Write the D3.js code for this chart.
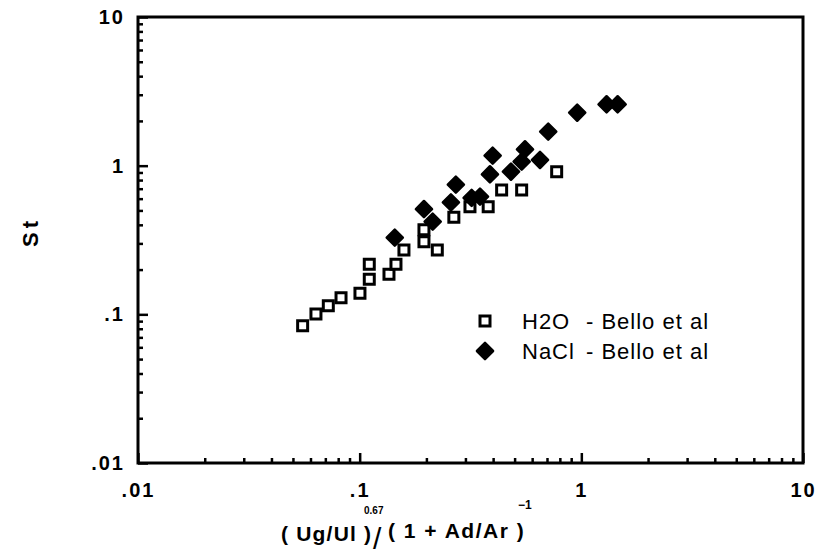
<!DOCTYPE html>
<html>
<head>
<meta charset="utf-8">
<script src="https://cdn.jsdelivr.net/npm/d3@7"></script>
<style>
  body { margin: 0; background: white; }
  svg text { font-family: "Liberation Sans", Arial, sans-serif; }
</style>
</head>
<body>
<svg></svg>
<script>
// H2O - Bello et al (open squares)
var h2oX = [0.0553, 0.0635, 0.0722, 0.0824, 0.1003, 0.1105, 0.1105, 0.1356, 0.1458, 0.1584,
            0.195, 0.195, 0.224, 0.266, 0.3145, 0.380, 0.437, 0.538, 0.774];
var h2oY = [0.0839, 0.1006, 0.1144, 0.1295, 0.1387, 0.172, 0.217, 0.186, 0.217, 0.271,
            0.308, 0.370, 0.271, 0.449, 0.530, 0.530, 0.686, 0.686, 0.911];
// NaCl - Bello et al (filled diamonds)
var naclX = [0.144, 0.195, 0.2135, 0.258, 0.2716, 0.320, 0.349, 0.387, 0.398, 0.4815,
             0.538, 0.557, 0.651, 0.709, 0.958, 1.30, 1.458];
var naclY = [0.328, 0.511, 0.420, 0.566, 0.745, 0.607, 0.619, 0.875, 1.168, 0.911,
             1.064, 1.289, 1.092, 1.693, 2.272, 2.588, 2.588];

var majorTicks = [0.01, 0.1, 1, 10];
var tickLabels = [".01", ".1", "1", "10"];

var svgWidth = 821, svgHeight = 557;
var plotLeft = 138, plotRight = 803, plotTop = 17, plotBottom = 463;

var svg = d3.select("svg")
    .attr("width", svgWidth)
    .attr("height", svgHeight);

svg.append("rect")
    .attr("width", "100%")
    .attr("height", "100%")
    .attr("fill", "white");

var xScale = d3.scaleLog().domain([0.01, 10]).range([plotLeft, plotRight]);
var yScale = d3.scaleLog().domain([0.01, 10]).range([plotBottom, plotTop]);

var minorTicks = [];
[0.01, 0.1, 1].forEach(function(d) {
    for (var k = 2; k <= 9; k++) minorTicks.push(d * k);
});

function fmt(d) { return tickLabels[majorTicks.indexOf(d)]; }

// minor ticks
svg.append("g")
    .attr("transform", "translate(0," + plotBottom + ")")
    .call(d3.axisBottom(xScale).tickValues(minorTicks).tickSize(-5).tickFormat(""));
svg.append("g")
    .attr("transform", "translate(" + plotLeft + ",0)")
    .call(d3.axisLeft(yScale).tickValues(minorTicks).tickSize(-5).tickFormat(""));

// major ticks with labels
svg.append("g")
    .attr("transform", "translate(0," + plotBottom + ")")
    .call(d3.axisBottom(xScale).tickValues(majorTicks).tickSize(-10).tickPadding(20).tickFormat(fmt));
svg.append("g")
    .attr("transform", "translate(" + plotLeft + ",0)")
    .call(d3.axisLeft(yScale).tickValues(majorTicks).tickSize(-10).tickPadding(13).tickFormat(fmt));

svg.selectAll(".domain").remove();
svg.selectAll(".tick line").attr("stroke", "black").attr("stroke-width", 2.5);
svg.selectAll(".tick text")
    .attr("fill", "black")
    .style("font-size", "20px")
    .style("font-weight", "bold")
    .style("letter-spacing", "2px");

// frame
svg.append("rect")
    .attr("x", plotLeft)
    .attr("y", plotTop)
    .attr("width", plotRight - plotLeft)
    .attr("height", plotBottom - plotTop)
    .attr("fill", "none")
    .attr("stroke", "black")
    .attr("stroke-width", 3);

var square = d3.symbol().type(d3.symbolSquare).size(100);
var diamond = d3.symbol().type(d3.symbolSquare).size(130);

svg.append("g").selectAll("path")
    .data(h2oX)
    .join("path")
    .attr("d", square)
    .attr("transform", function(d, i) { return "translate(" + xScale(d) + "," + yScale(h2oY[i]) + ")"; })
    .attr("fill", "white")
    .attr("stroke", "black")
    .attr("stroke-width", 3);

svg.append("g").selectAll("path")
    .data(naclX)
    .join("path")
    .attr("d", diamond)
    .attr("transform", function(d, i) { return "translate(" + xScale(d) + "," + yScale(naclY[i]) + ") rotate(45)"; })
    .attr("fill", "black")
    .attr("stroke", "black")
    .attr("stroke-width", 2.5)
    .attr("stroke-linejoin", "round");

// legend
var legend = svg.append("g");
legend.append("path")
    .attr("d", square)
    .attr("transform", "translate(485,321)")
    .attr("fill", "white")
    .attr("stroke", "black")
    .attr("stroke-width", 3);
legend.append("path")
    .attr("d", diamond)
    .attr("transform", "translate(485,351) rotate(45)")
    .attr("fill", "black")
    .attr("stroke", "black")
    .attr("stroke-width", 2.5)
    .attr("stroke-linejoin", "round");
legend.append("text").attr("x", 522).attr("y", 329).text("H2O");
legend.append("text").attr("x", 586).attr("y", 329).text("- Bello et al");
legend.append("text").attr("x", 522).attr("y", 359).text("NaCl");
legend.append("text").attr("x", 586).attr("y", 359).text("- Bello et al");
legend.selectAll("text")
    .style("font-size", "22px")
    .style("letter-spacing", "1px")
    .attr("fill", "black");

// y axis title
svg.append("text")
    .attr("transform", "translate(38,232) rotate(-90)")
    .attr("text-anchor", "middle")
    .style("font-size", "22px")
    .style("font-weight", "bold")
    .style("letter-spacing", "4px")
    .text("St");

// x axis title
var xt = svg.append("g").style("font-weight", "bold").attr("fill", "black");
xt.append("text").attr("x", 281).attr("y", 541)
    .style("font-size", "21px").style("letter-spacing", "1.2px").text("( Ug/Ul )");
xt.append("text").attr("x", 364).attr("y", 514)
    .style("font-size", "10px").text("0.67");
xt.append("text").attr("x", 373).attr("y", 549)
    .style("font-size", "30px").style("font-weight", "normal").text("/");
xt.append("text").attr("x", 388).attr("y", 538)
    .style("font-size", "21px").style("letter-spacing", "1.5px").text("( 1 + Ad/Ar )");
xt.append("text").attr("x", 518).attr("y", 509)
    .style("font-size", "12px").text("\u22121");
</script>
</body>
</html>
